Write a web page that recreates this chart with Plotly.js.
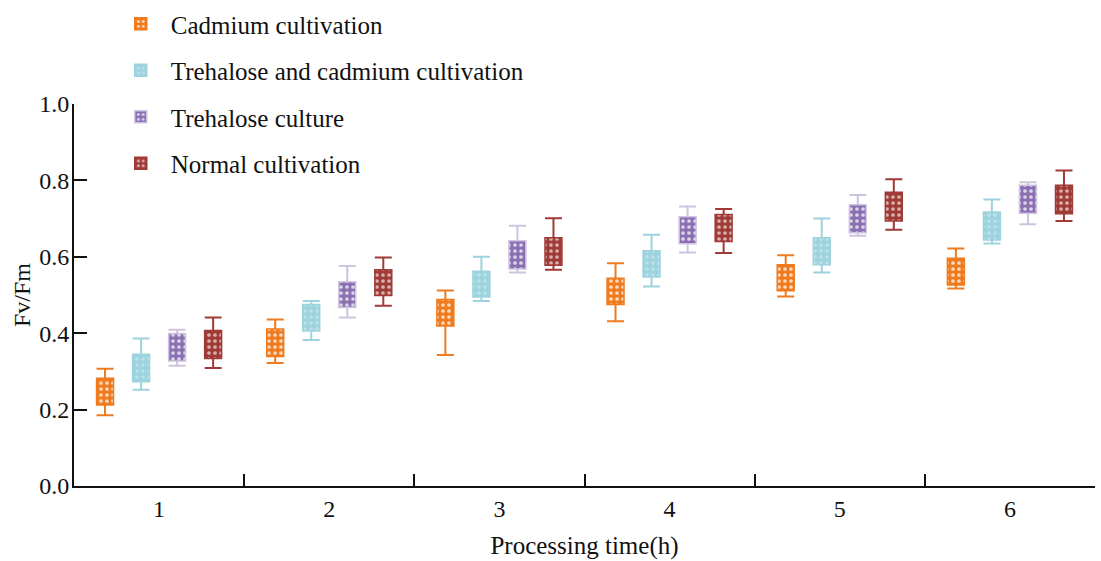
<!DOCTYPE html>
<html>
<head>
<meta charset="utf-8">
<script src="https://cdn.plot.ly/plotly-3.0.1.min.js"></script>
<style>html,body{margin:0;padding:0;background:#fff;}#chart{width:1101px;height:561px;}</style>
</head>
<body>
<div id="chart"></div>
<script>
// Processing time categories (h)
const categories = ['1', '2', '3', '4', '5', '6'];
const seriesNames = ['Cadmium cultivation', 'Trehalose and cadmium cultivation', 'Trehalose culture', 'Normal cultivation'];

// Cadmium cultivation
const cadMax = [0.307, 0.436, 0.512, 0.583, 0.604, 0.622];
const cadQ3  = [0.282, 0.411, 0.488, 0.544, 0.579, 0.596];
const cadQ1  = [0.212, 0.339, 0.419, 0.475, 0.511, 0.526];
const cadMin = [0.185, 0.322, 0.343, 0.431, 0.496, 0.517];

// Trehalose and cadmium cultivation
const treCadMax = [0.386, 0.484, 0.600, 0.658, 0.700, 0.750];
const treCadQ3  = [0.345, 0.475, 0.562, 0.616, 0.650, 0.717];
const treCadQ1  = [0.273, 0.406, 0.495, 0.547, 0.579, 0.644];
const treCadMin = [0.252, 0.382, 0.484, 0.522, 0.559, 0.635];

// Trehalose culture
const treMax = [0.409, 0.576, 0.681, 0.732, 0.762, 0.795];
const treQ3  = [0.399, 0.535, 0.642, 0.705, 0.736, 0.787];
const treQ1  = [0.327, 0.467, 0.568, 0.634, 0.663, 0.714];
const treMin = [0.315, 0.441, 0.559, 0.611, 0.655, 0.685];

// Normal cultivation
const norMax = [0.441, 0.598, 0.701, 0.725, 0.803, 0.826];
const norQ3  = [0.407, 0.566, 0.650, 0.711, 0.769, 0.787];
const norQ1  = [0.334, 0.499, 0.578, 0.640, 0.694, 0.713];
const norMin = [0.309, 0.472, 0.566, 0.610, 0.671, 0.694];

const FONT = 'Liberation Serif, Times New Roman, serif';

const styles = [
  {fill: '#EF7B1E', line: '#EF7B1E', whisker: '#EF7B1E', dot: '#FFFFFF', dotOp: 0.7},
  {fill: '#9DD3DE', line: '#9DD3DE', whisker: '#9DD3DE', dot: '#FFFFFF', dotOp: 0.3},
  {fill: '#8A6FB2', line: '#CEC4E0', whisker: '#CEC4E0', dot: '#FFFFFF', dotOp: 0.7},
  {fill: '#A03A36', line: '#A03A36', whisker: '#A03A36', dot: '#FFFFFF', dotOp: 0.6}
];

const stats = [
  {min: cadMin, q1: cadQ1, q3: cadQ3, max: cadMax},
  {min: treCadMin, q1: treCadQ1, q3: treCadQ3, max: treCadMax},
  {min: treMin, q1: treQ1, q3: treQ3, max: treMax},
  {min: norMin, q1: norQ1, q3: norQ3, max: norMax}
];

const whiskerTraces = [];
const bodyTraces = [];
stats.forEach((s, i) => {
  const st = styles[i];
  whiskerTraces.push({
    type: 'bar', x: categories, y: s.q3,
    offsetgroup: 'g' + i, showlegend: false, hoverinfo: 'skip',
    marker: {color: 'rgba(0,0,0,0)', line: {width: 0}},
    error_y: {
      type: 'data', symmetric: false,
      array: s.max.map((v, k) => v - s.q3[k]),
      arrayminus: s.q3.map((v, k) => v - s.min[k]),
      color: st.whisker, thickness: 2, width: 8.5
    }
  });
  bodyTraces.push({
    type: 'bar', name: seriesNames[i], x: categories,
    base: s.q1, y: s.q3.map((v, k) => v - s.q1[k]),
    offsetgroup: 'g' + i, legendgroup: 'g' + i,
    marker: {
      color: st.fill,
      line: {color: st.line, width: 1.5},
      pattern: {shape: '.', fillmode: 'overlay', fgcolor: st.dot, fgopacity: st.dotOp, size: 6, solidity: 0.3}
    }
  });
});

const layout = {
  width: 1101, height: 561,
  margin: {l: 74, r: 6, t: 104, b: 75, autoexpand: false},
  paper_bgcolor: '#fff', plot_bgcolor: '#fff',
  font: {family: FONT, size: 24, color: '#111'},
  barmode: 'group', bargap: 0.153, bargroupgap: 0.53,
  showlegend: true,
  legend: {
    xref: 'paper', x: 0.036, xanchor: 'left',
    yref: 'container', y: 0.998, yanchor: 'top',
    traceorder: 'grouped', tracegroupgap: 11, itemwidth: 50,
    font: {family: FONT, size: 25, color: '#111'},
    bgcolor: 'rgba(0,0,0,0)'
  },
  xaxis: {
    type: 'category', range: [-0.5, 5.5],
    showline: true, linecolor: '#111', linewidth: 2,
    ticks: 'inside', tickson: 'boundaries', ticklen: 12, tickwidth: 2, tickcolor: '#111',
    showgrid: false, zeroline: false, ticklabelstandoff: 0,
    tickfont: {family: FONT, size: 24, color: '#111'},
    title: {text: 'Processing time(h)', font: {family: FONT, size: 25, color: '#111'}, standoff: 16}
  },
  yaxis: {
    range: [0, 1], tickvals: [0, 0.2, 0.4, 0.6, 0.8, 1.0], tickformat: '.1f',
    showline: true, linecolor: '#111', linewidth: 2,
    ticks: 'inside', ticklen: 13, tickwidth: 2, tickcolor: '#111',
    showgrid: false, zeroline: false, ticklabelstandoff: -2,
    tickfont: {family: FONT, size: 24, color: '#111'},
    title: {text: 'Fv/Fm', font: {family: FONT, size: 24, color: '#111'}, standoff: 2}
  }
};

Plotly.newPlot('chart', whiskerTraces.concat(bodyTraces), layout, {displayModeBar: false, staticPlot: true});
</script>
</body>
</html>
